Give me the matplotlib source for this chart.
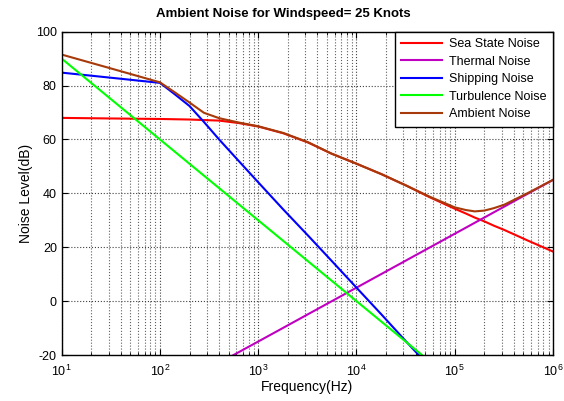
import matplotlib
matplotlib.use("Agg")
import matplotlib.pyplot as plt
from matplotlib.ticker import LogLocator

plt.rcParams["font.family"] = ["Liberation Sans", "DejaVu Sans"]
plt.rcParams["axes.unicode_minus"] = False

# frequency grid (Hz) the curves were read at
freq = [10, 30, 100, 140, 200, 280, 400, 630, 1000, 1800, 3200, 5600,
        1e4, 1.8e4, 3.2e4, 5.6e4, 1e5, 1.3e5, 1.6e5, 2e5, 2.5e5, 3.2e5, 5.6e5, 1e6]

sea_state = [68.0, 67.8, 67.6, 67.5, 67.4, 67.2, 67.0, 66.1, 64.8, 62.3, 58.9, 54.7,
             51.0, 47.1, 42.9, 38.5, 34.3, 32.5, 31.0, 29.6, 28.0, 26.4, 22.4, 18.4]
ambient = [91.5, 86.6, 81.2, 77.6, 73.7, 69.9, 67.9, 66.3, 64.9, 62.4, 59.0, 54.7,
           51.0, 47.1, 42.9, 38.7, 34.8, 33.8, 33.3, 33.6, 34.5, 35.8, 40.2, 45.0]

freq_ship = [10, 30, 100, 140, 200, 280, 400, 630, 1000, 1800, 3200, 5600,
             1e4, 1.8e4, 3.2e4, 5.6e4]
shipping = [84.8, 83.0, 81.0, 76.9, 72.4, 66.5, 60.0, 52.1, 44.1, 34.0, 24.4, 14.9,
            5.0, -5.0, -15.0, -24.5]

freq_turb = [10, 100, 1000, 1e4, 4.64e4]
turbulence = [90, 60, 30, 0, -20]

freq_therm = [500, 1000, 1e4, 1e5, 1e6]
thermal = [-21, -15, 5, 25, 45]

fig = plt.figure(figsize=(5.64, 4.01), dpi=100)
ax = fig.add_axes([0.1094, 0.1147, 0.8711, 0.8063])

lw = 1.5
ax.semilogx(freq, sea_state, color="#ff0000", lw=lw, label="Sea State Noise")
ax.semilogx(freq_therm, thermal, color="#c000c0", lw=lw, label="Thermal Noise")
ax.semilogx(freq_ship, shipping, color="#0000ff", lw=lw, label="Shipping Noise")
ax.semilogx(freq_turb, turbulence, color="#00ff00", lw=lw, label="Turbulence Noise")
ax.semilogx(freq, ambient, color="#a63a0a", lw=lw, label="Ambient Noise")

ax.set_xlim(10, 1e6)
ax.set_ylim(-20, 100)
ax.set_yticks([-20, 0, 20, 40, 60, 80, 100])
ax.xaxis.set_major_locator(LogLocator(base=10, numticks=10))
ax.xaxis.set_minor_locator(LogLocator(base=10, subs=range(2, 10), numticks=50))

ax.grid(True, which="major", axis="both", color="#404040", linestyle=":", lw=0.8)
ax.grid(True, which="minor", axis="x", color="#606060", linestyle=":", lw=0.8)
ax.tick_params(which="both", direction="in", top=True, right=True, labelsize=9)
ax.tick_params(which="major", length=4)
ax.tick_params(which="minor", length=2)
ax.tick_params(axis="x", which="major", pad=6)
for s in ax.spines.values():
    s.set_linewidth(1.0)

ax.set_xlabel("Frequency(Hz)", fontsize=10, labelpad=1)
ax.set_ylabel("Noise Level(dB)", fontsize=10, labelpad=2)
fig.text(283 / 564, 1 - 14 / 401, "Ambient Noise for Windspeed= 25 Knots",
         ha="center", va="center", fontsize=9.5, fontweight="bold")

leg = ax.legend(loc="upper right", bbox_to_anchor=(1.0, 1.0), borderaxespad=0,
                fontsize=9, handlelength=3.3, handletextpad=0.55,
                labelspacing=0.45, fancybox=False, framealpha=1,
                borderpad=0.5)
leg.get_frame().set_edgecolor("black")
leg.get_frame().set_linewidth(1.0)

fig.savefig("out.png", dpi=100)
